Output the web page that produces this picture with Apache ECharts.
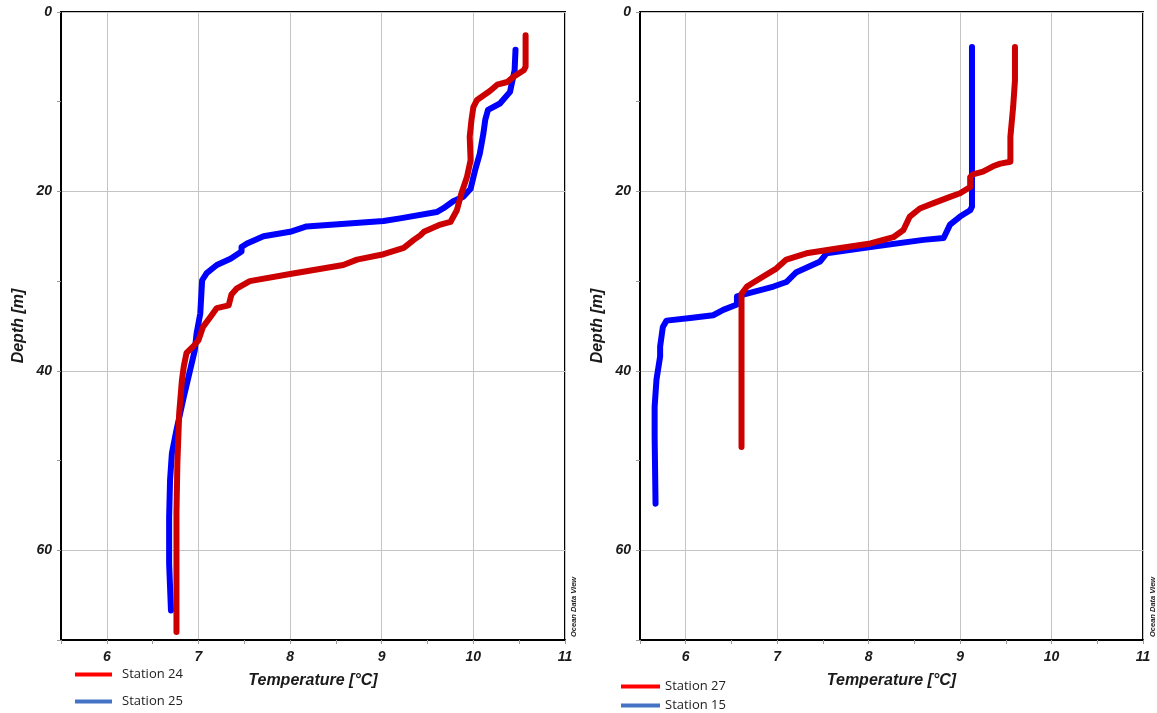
<!DOCTYPE html>
<html>
<head>
<meta charset="utf-8">
<script src="https://cdn.jsdelivr.net/npm/echarts@6/dist/echarts.min.js"></script>
<style>
html,body{margin:0;padding:0;background:#fff;}
#chart{width:1157px;height:713px;}
</style>
</head>
<body>
<div id="chart"></div>
<script>
// ---- Data (temperature °C, depth m) ----
const st24_T = [10.57,10.57,10.55,10.44,10.37,10.26,10.18,10.04,10.0,9.98,9.96,9.97,9.93,9.87,9.82,9.75,9.64,9.46,9.42,9.35,9.24,9.02,8.73,8.58,8.29,8.0,7.56,7.42,7.36,7.33,7.2,7.13,7.05,7.0,6.94,6.87,6.84,6.82,6.79,6.77,6.76,6.76,6.76];
const st24_D = [2.6,6.1,6.5,7.2,7.8,8.1,8.8,9.8,10.6,12,13.9,16.5,18.4,20.2,22.1,23.4,23.7,24.5,24.9,25.4,26.3,27.0,27.6,28.2,28.7,29.2,30.0,30.8,31.5,32.7,33.0,34.0,35.1,36.6,37.3,38.0,39.5,41.0,44.7,50.3,55.9,61.5,69.1];

const st25_T = [10.46,10.45,10.40,10.29,10.16,10.13,10.11,10.07,10.02,9.97,9.89,9.78,9.67,9.60,9.20,9.02,8.18,8.0,7.71,7.53,7.47,7.47,7.35,7.2,7.09,7.04,7.02,6.98,6.96,6.90,6.84,6.76,6.71,6.69,6.68,6.68,6.70];
const st25_D = [4.2,6.5,8.9,10.2,10.9,12.0,13.5,15.8,17.6,19.7,20.6,21.1,21.9,22.3,23.0,23.3,23.9,24.5,25.0,25.8,26.2,26.7,27.5,28.2,29.1,29.9,33.6,35.8,37.7,40.3,42.9,46.6,49.2,52.2,56.3,61.5,66.7];

const st27_T = [9.60,9.60,9.58,9.55,9.55,9.44,9.36,9.25,9.14,9.11,9.11,9.0,8.89,8.71,8.56,8.45,8.38,8.27,8.02,7.69,7.32,7.10,6.99,6.78,6.67,6.61,6.61];
const st27_D = [3.9,7.6,10.6,13.9,16.7,16.9,17.2,17.8,18.1,18.4,19.5,20.2,20.6,21.3,21.9,22.8,24.3,25.1,25.8,26.3,26.9,27.6,28.6,29.9,30.6,31.4,48.5];

const st15_T = [9.13,9.13,9.13,9.13,9.11,9.0,8.89,8.82,8.60,8.02,7.54,7.47,7.21,7.10,6.96,6.67,6.56,6.56,6.41,6.30,6.05,5.79,5.75,5.72,5.72,5.68,5.66,5.66,5.67];
const st15_D = [3.9,12.4,18.0,21.7,22.1,22.8,23.7,25.2,25.4,26.2,26.9,27.8,29.0,30.1,30.6,31.4,31.7,32.6,33.2,33.8,34.1,34.4,35.1,37.3,38.4,41.0,44.0,47.3,54.8];

const tempMin = 5.5, tempMax = 11;
const depthMin = 0, depthMax = 70;
const xLabelStep = 1, yLabelStep = 20;
const xName = 'Temperature [°C]';
const yName = 'Depth [m]';
const watermark = 'Ocean Data View';

// ---- Build ----
function zip(T, D){ return T.map((t,i)=>[t, D[i]]); }

const tickFont = {fontFamily:'Liberation Sans', fontWeight:'bold', fontStyle:'italic', fontSize:14, color:'#1a1a1a'};
const nameFont = {fontFamily:'Liberation Sans', fontWeight:'bold', fontStyle:'italic', fontSize:16, color:'#1a1a1a'};

const grids = [
  {left:61, top:12, width:504, height:628},
  {left:640, top:12, width:503, height:628}
];

const xAxes = [], yAxes = [];
grids.forEach((g, gi) => {
  xAxes.push({
    type:'value', gridIndex:gi, min:tempMin, max:tempMax, interval:0.5, position:'bottom',
    name:xName, nameLocation:'middle', nameGap:33, nameTextStyle:nameFont,
    axisLine:{show:true, onZero:false, lineStyle:{color:'#000', width:2}},
    axisTick:{show:true, length:4, lineStyle:{color:'#999', width:1}},
    axisLabel:Object.assign({margin:10, formatter:v => (Math.abs(v % xLabelStep) < 1e-9 ? String(v) : '')}, tickFont),
    splitLine:{show:false}
  });
  xAxes.push({
    type:'value', gridIndex:gi, min:tempMin, max:tempMax, splitNumber:5, position:'top',
    axisLine:{show:false}, axisTick:{show:false}, axisLabel:{show:false},
    splitLine:{show:true, lineStyle:{color:'#c4c4c4', width:1}}
  });
  yAxes.push({
    type:'value', gridIndex:gi, inverse:true, min:depthMin, max:depthMax, interval:10, position:'left',
    name:yName, nameLocation:'middle', nameGap:34, nameRotate:90, nameTextStyle:nameFont,
    axisLine:{show:true, onZero:false, lineStyle:{color:'#000', width:2}},
    axisTick:{show:true, length:4, lineStyle:{color:'#999', width:1}},
    axisLabel:Object.assign({margin:9, formatter:v => (v % yLabelStep === 0 ? String(v) : '')}, tickFont),
    splitLine:{show:false}
  });
  yAxes.push({
    type:'value', gridIndex:gi, inverse:true, min:depthMin, max:depthMax, interval:yLabelStep, position:'right',
    axisLine:{show:false}, axisTick:{show:false}, axisLabel:{show:false},
    splitLine:{show:true, lineStyle:{color:'#c4c4c4', width:1}}
  });
});

function lineSeries(name, T, D, color, gi){
  return {
    name, type:'line', xAxisIndex:gi*2, yAxisIndex:gi*2, data:zip(T,D),
    showSymbol:false, symbol:'none', smooth:false,
    lineStyle:{color, width:6, cap:'round', join:'round'},
    itemStyle:{color}
  };
}

function legendItem(name, color, left, top, w, textPad){
  return {left, top, itemWidth:w, itemHeight:4, icon:'rect', padding:0, itemGap:0,
          textStyle:{fontFamily:'Open Sans', fontSize:13, color:'#222', padding:[0,0,0,textPad]},
          data:[{name, itemStyle:{color}}]};
}

const option = {
  animation:false,
  backgroundColor:'#fff',
  grid: grids.map(g => Object.assign({show:true, borderColor:'#000', borderWidth:2, backgroundColor:'transparent', containLabel:false}, g)),
  xAxis: xAxes,
  yAxis: yAxes,
  legend: [
    legendItem('Station 24', '#FF0000', 75, 668, 37, 5),
    legendItem('Station 25', '#4472C4', 75, 695, 37, 5),
    legendItem('Station 27', '#FF0000', 621, 680, 39, 0),
    legendItem('Station 15', '#4472C4', 621, 699, 39, 0)
  ],
  graphic: [
    {type:'text', x:570, y:637, rotation:Math.PI/2,
     style:{text:watermark, font:'bold italic 7.5px "Liberation Sans"', fill:'#222', textAlign:'left', textVerticalAlign:'top'}},
    {type:'text', x:1149, y:637, rotation:Math.PI/2,
     style:{text:watermark, font:'bold italic 7.5px "Liberation Sans"', fill:'#222', textAlign:'left', textVerticalAlign:'top'}}
  ],
  series: [
    lineSeries('Station 25', st25_T, st25_D, '#0000FF', 0),
    lineSeries('Station 24', st24_T, st24_D, '#CC0000', 0),
    lineSeries('Station 15', st15_T, st15_D, '#0000FF', 1),
    lineSeries('Station 27', st27_T, st27_D, '#CC0000', 1)
  ]
};

const chart = echarts.init(document.getElementById('chart'), null, {renderer:'canvas'});
chart.setOption(option);
</script>
</body>
</html>
